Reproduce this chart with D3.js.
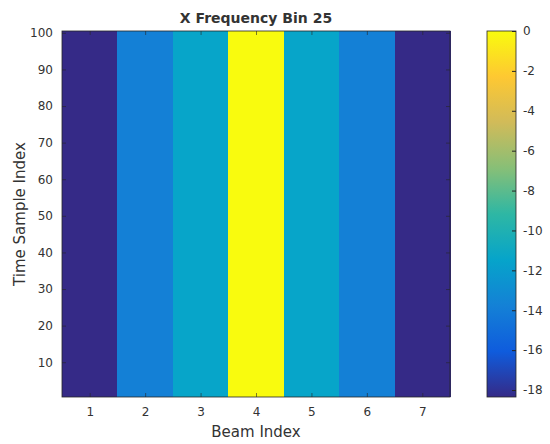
<!DOCTYPE html>
<html>
<head>
<meta charset="utf-8">
<script src="https://cdn.jsdelivr.net/npm/d3@7"></script>
<style>
  body { margin: 0; background: #fff; }
  text { font-family: "DejaVu Sans", sans-serif; fill: #333; }
</style>
</head>
<body>
<div id="chart"></div>
<script>
// Data
var beams = [1, 2, 3, 4, 5, 6, 7];
var beamValues = [-18.35, -13.8, -11.4, 0, -11.4, -13.8, -18.35];
var timeRange = [1, 100];
var xTicks = [1, 2, 3, 4, 5, 6, 7];
var yTicks = [10, 20, 30, 40, 50, 60, 70, 80, 90, 100];
var cbTicks = [0, -2, -4, -6, -8, -10, -12, -14, -16, -18];

// parula colormap stops
var parula = ["#352a87", "#0f5cdd", "#1481d6", "#06a4ca", "#2eb7a4",
              "#87bf77", "#d1bb59", "#fec832", "#f9fb0e"];

var svgWidth = 550, svgHeight = 444;
var plot = { left: 62, top: 31, right: 450, bottom: 397 };
var cbar = { left: 487, right: 516 };

var svg = d3.select("#chart").append("svg")
  .attr("width", svgWidth)
  .attr("height", svgHeight);

var x = d3.scaleLinear().domain([0.5, 7.5]).range([plot.left, plot.right]);
var y = d3.scaleLinear().domain([timeRange[0] - 0.5, timeRange[1] + 0.5]).range([plot.bottom, plot.top]);

var cmin = d3.min(beamValues), cmax = d3.max(beamValues);
var color = d3.scaleLinear()
  .domain(parula.map(function(d, i) { return cmin + (cmax - cmin) * i / (parula.length - 1); }))
  .range(parula)
  .interpolate(d3.interpolateRgb);

// image columns
svg.append("g").selectAll("rect")
  .data(beams)
  .enter()
  .append("rect")
  .attr("x", d => x(d - 0.5))
  .attr("width", d => x(d + 0.5) - x(d - 0.5) + 0.5)
  .attr("y", y(timeRange[1] + 0.5))
  .attr("height", y(timeRange[0] - 0.5) - y(timeRange[1] + 0.5))
  .attr("fill", (d, i) => color(beamValues[i]))
  .attr("shape-rendering", "crispEdges");

// axes with inward ticks, box on
var tk = 4;
var fmt = d3.format("d");
svg.append("g")
  .attr("transform", `translate(0, ${plot.bottom})`)
  .call(d3.axisBottom(x).tickValues(xTicks).tickFormat(fmt).tickSizeInner(-tk).tickSizeOuter(0).tickPadding(10))
  .call(g => g.select(".domain").remove());
svg.append("g")
  .attr("transform", `translate(0, ${plot.top})`)
  .call(d3.axisTop(x).tickValues(xTicks).tickSizeInner(-tk).tickSizeOuter(0).tickFormat(""))
  .call(g => g.select(".domain").remove());
svg.append("g")
  .attr("transform", `translate(${plot.left}, 0)`)
  .call(d3.axisLeft(y).tickValues(yTicks).tickFormat(fmt).tickSizeInner(-tk).tickSizeOuter(0).tickPadding(9))
  .call(g => g.select(".domain").remove());
svg.append("g")
  .attr("transform", `translate(${plot.right}, 0)`)
  .call(d3.axisRight(y).tickValues(yTicks).tickSizeInner(-tk).tickSizeOuter(0).tickFormat(""))
  .call(g => g.select(".domain").remove());

svg.selectAll(".tick line").attr("stroke", "#262626").attr("stroke-opacity", 0.6);
svg.selectAll(".tick text").style("font-size", "12px").attr("fill", "#333");

svg.append("rect")
  .attr("x", plot.left).attr("y", plot.top)
  .attr("width", plot.right - plot.left).attr("height", plot.bottom - plot.top)
  .attr("fill", "none").attr("stroke", "#262626").attr("stroke-width", 0.8);

// colorbar
var cy = d3.scaleLinear().domain([cmin, cmax]).range([plot.bottom, plot.top]);
var defs = svg.append("defs");
var grad = defs.append("linearGradient")
  .attr("id", "parula")
  .attr("x1", "0").attr("y1", "1").attr("x2", "0").attr("y2", "0");
grad.selectAll("stop")
  .data(parula)
  .enter()
  .append("stop")
  .attr("offset", (d, i) => i / (parula.length - 1))
  .attr("stop-color", d => d);

svg.append("rect")
  .attr("x", cbar.left).attr("y", plot.top)
  .attr("width", cbar.right - cbar.left).attr("height", plot.bottom - plot.top)
  .attr("fill", "url(#parula)")
  .attr("stroke", "#262626").attr("stroke-width", 0.8);

var cbAxis = svg.append("g")
  .attr("transform", `translate(${cbar.right}, 0)`)
  .call(d3.axisRight(cy).tickValues(cbTicks).tickSizeInner(-tk).tickSizeOuter(0).tickPadding(7)
    .tickFormat(d => d < 0 ? "-" + Math.abs(d) : d))
  .call(g => g.select(".domain").remove());
cbAxis.selectAll(".tick line").attr("stroke", "#262626");
cbAxis.selectAll(".tick text").style("font-size", "12px").attr("fill", "#333");

// title and labels
svg.append("text")
  .attr("x", (plot.left + plot.right) / 2)
  .attr("y", 23)
  .attr("text-anchor", "middle")
  .style("font-size", "14px")
  .style("font-weight", "bold")
  .attr("fill", "#1a1a1a")
  .text("X Frequency Bin 25");

svg.append("text")
  .attr("x", (plot.left + plot.right) / 2)
  .attr("y", 437)
  .attr("text-anchor", "middle")
  .style("font-size", "15px")
  .text("Beam Index");

svg.append("text")
  .attr("transform", `translate(25, ${(plot.top + plot.bottom) / 2}) rotate(-90)`)
  .attr("text-anchor", "middle")
  .style("font-size", "15px")
  .text("Time Sample Index");
</script>
</body>
</html>
